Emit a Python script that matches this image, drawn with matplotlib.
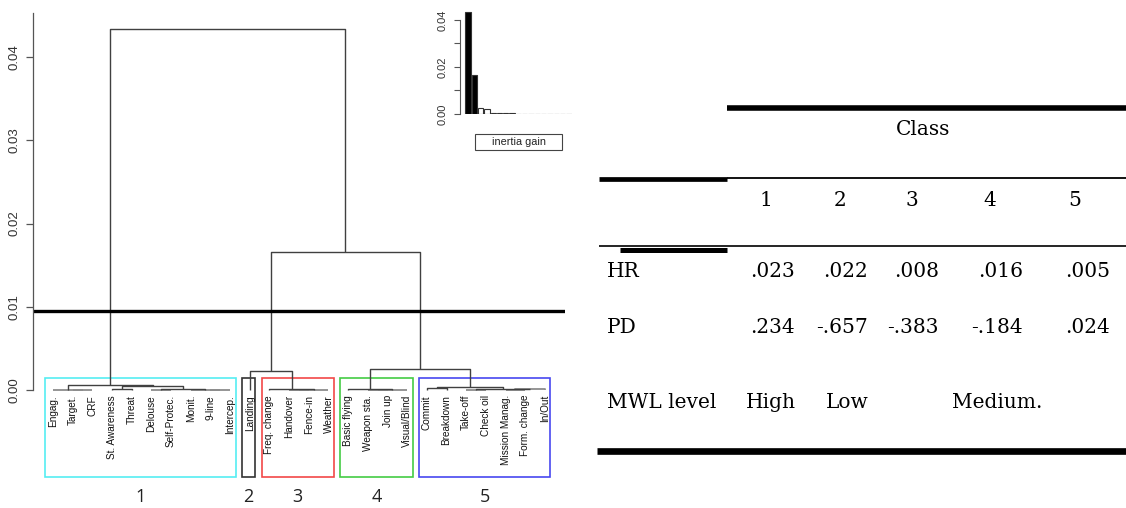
import matplotlib
matplotlib.use("Agg")
import matplotlib.pyplot as plt
from matplotlib.patches import Rectangle

# ---------------- data ----------------
leaf_labels = ["Engag.", "Target.", "CRF", "St. Awareness", "Threat", "Delouse",
               "Self-Protec.", "Monit.", "9-line", "Intercep.", "Landing",
               "Freq. change", "Handover", "Fence-in", "Weather", "Basic flying",
               "Weapon sta.", "Join up", "Visual/Blind", "Commit", "Breakdown",
               "Take-off", "Check oil", "Mission Manag.", "Form. change", "In/Out"]
leaf_cluster = [1] * 10 + [2] + [3] * 4 + [4] * 4 + [5] * 7

# merges: (left id, right id, height); leaves are 0..25, merge k gets id 26+k
merge_left = [1, 0, 3, 5, 8, 7, 29, 28, 27, 12, 35, 11, 10, 16, 39, 15, 19, 21, 23, 44, 43, 42, 41, 38, 34]
merge_right = [2, 26, 4, 6, 9, 30, 31, 32, 33, 13, 14, 36, 37, 17, 18, 40, 20, 22, 24, 25, 45, 46, 47, 48, 49]
merge_height = [0.00002, 0.00005, 0.00015, 0.00003, 0.00001, 0.00003, 0.00015, 0.00048, 0.0006,
                0.00002, 0.00005, 0.0001, 0.0023, 0.00003, 0.00006, 0.0001, 0.00025, 0.00005,
                0.00003, 0.00008, 0.00015, 0.0004, 0.0025, 0.0166, 0.0434]
cut_height = 0.0095
cluster_ids = [1, 2, 3, 4, 5]
cluster_colors = ["#55eef2", "#333333", "#f24848", "#44cc44", "#4848f0"]
n_inertia_bars = 17

table_cols = ["1", "2", "3", "4", "5"]
hr_values = [".023", ".022", ".008", ".016", ".005"]
pd_values = [".234", "-.657", "-.383", "-.184", ".024"]
mwl_levels = ["High", "Low", "", "Medium.", ""]

# ---------------- figure ----------------
W, H = 1126, 508
fig = plt.figure(figsize=(W / 100, H / 100), dpi=100)
sans = ["Liberation Sans", "DejaVu Sans"]
serif = ["DejaVu Serif"]

def fbox(x0, y0, x1, y1):
    return [x0 / W, (H - y1) / H, (x1 - x0) / W, (y1 - y0) / H]

# main dendrogram axes
ax = fig.add_axes(fbox(33, 13, 565, 390))
ax.set_ylim(0, 0.0453)
ax.set_xlim(-1.016, 26.02)
for s in ["top", "right", "bottom"]:
    ax.spines[s].set_visible(False)
ax.spines["left"].set_color("#555555")
ax.spines["left"].set_linewidth(0.9)
ax.set_xticks([])
ax.set_yticks([0, 0.01, 0.02, 0.03, 0.04])
ax.tick_params(axis="y", length=5, width=0.9, color="#555555", pad=4)
ax.set_yticklabels(["0.00", "0.01", "0.02", "0.03", "0.04"], family=sans,
                   fontsize=9.5, color="#333333", rotation=90, va="center")
ax.patch.set_alpha(0)

n = len(leaf_labels)
xpos = {i: float(i) for i in range(n)}
ypos = {i: 0.0 for i in range(n)}
for k, (a, b, h) in enumerate(zip(merge_left, merge_right, merge_height)):
    xa, xb = xpos[a], xpos[b]
    col = "#8c8c8c" if h < 0.0001 else "#404040"
    lw = 1.3 if h < 0.0001 else 1.0
    ax.plot([xa, xa, xb, xb], [ypos[a], h, h, ypos[b]], color=col, lw=lw,
            solid_capstyle="butt", clip_on=False)
    xpos[n + k] = (xa + xb) / 2
    ypos[n + k] = h

ax.axhline(cut_height, color="black", lw=2.4, xmin=0, xmax=1)

# leaf labels
for i, lab in enumerate(leaf_labels):
    ax.text(i, -0.0006, lab, rotation=90, ha="center", va="top", fontsize=7.2,
            family=sans, color="#111111", clip_on=False)

# cluster boxes and numbers
for cid, col in zip(cluster_ids, cluster_colors):
    members = [i for i, c in enumerate(leaf_cluster) if c == cid]
    x0 = min(members) - 0.4
    x1 = max(members) + 0.28
    y0, y1 = -0.01045, 0.00144
    ax.add_patch(Rectangle((x0, y0), x1 - x0, y1 - y0, fill=False, edgecolor=col,
                           lw=1.2, clip_on=False))
    ax.text((x0 + x1) / 2, -0.01286, str(cid), ha="center", va="center",
            fontsize=13, family=["Open Sans", "DejaVu Sans"], color="#222222", clip_on=False)

# inset inertia gain bars
inertia = sorted(merge_height, reverse=True)[:n_inertia_bars]
ai = fig.add_axes(fbox(460, 4, 572, 114))
ai.set_ylim(0, 0.0468)
ai.set_xlim(-1.27, 16.5)
for s in ["top", "right", "bottom"]:
    ai.spines[s].set_visible(False)
ai.spines["left"].set_bounds(0, 0.04)
ai.spines["left"].set_color("#555555")
ai.spines["left"].set_linewidth(0.8)
ai.set_xticks([])
ai.set_yticks([0, 0.01, 0.02, 0.03, 0.04])
ai.tick_params(axis="y", length=4, width=0.8, color="#555555", pad=5)
ai.set_yticklabels(["0.00", "", "0.02", "", "0.04"], family=sans, fontsize=8,
                   color="#333333", rotation=90, va="center")
ai.patch.set_alpha(0)
face = ["black" if i < 2 else "white" for i in range(len(inertia))]
ai.bar(range(len(inertia)), inertia, width=0.85, color=face, edgecolor="#333333", lw=0.8)

# overlay for legend box and table
ov = fig.add_axes([0, 0, 1, 1])
ov.set_xlim(0, W)
ov.set_ylim(H, 0)
ov.axis("off")
ov.patch.set_alpha(0)
ov.add_patch(Rectangle((475, 134), 87, 16, fill=False, edgecolor="#444444", lw=0.8))
ov.text(518.5, 142, "inertia gain", ha="center", va="center", fontsize=7.8,
        family=sans, color="#222222")

# table rules
ov.plot([727, 1126], [107.8, 107.8], color="black", lw=4.0, solid_capstyle="butt")
ov.plot([599, 727], [178.5, 178.5], color="black", lw=3.4, solid_capstyle="butt")
ov.plot([727, 1126], [178.3, 178.3], color="black", lw=1.3, solid_capstyle="butt")
ov.plot([599, 1126], [246.2, 246.2], color="black", lw=1.2, solid_capstyle="butt")
ov.plot([620, 727], [250.2, 250.2], color="black", lw=3.6, solid_capstyle="butt")
ov.plot([597, 1126], [451, 451], color="black", lw=4.8, solid_capstyle="butt")

fs = 14.5
ov.text(923, 135, "Class", ha="center", va="baseline", fontsize=fs, family=serif)
header_x = [766, 840, 912, 990, 1075]
right_x = [795, 868, 939, 1023, 1110]
for x, c in zip(header_x, table_cols):
    ov.text(x, 206, c, ha="center", va="baseline", fontsize=fs, family=serif)
ov.text(607, 276.7, "HR", ha="left", va="baseline", fontsize=fs, family=serif)
ov.text(607, 333.3, "PD", ha="left", va="baseline", fontsize=fs, family=serif)
ov.text(607, 407.7, "MWL level", ha="left", va="baseline", fontsize=fs, family=serif)
for x, v in zip(right_x, hr_values):
    ov.text(x, 276.7, v, ha="right", va="baseline", fontsize=fs, family=serif)
for x, v in zip(right_x, pd_values):
    ov.text(x, 333.3, v, ha="right", va="baseline", fontsize=fs, family=serif)
mwl_x = [771, 847, 912, 997, 1075]
for x, v in zip(mwl_x, mwl_levels):
    if v:
        ov.text(x, 407.7, v, ha="center", va="baseline", fontsize=fs, family=serif)

fig.savefig("out.png", dpi=100)
